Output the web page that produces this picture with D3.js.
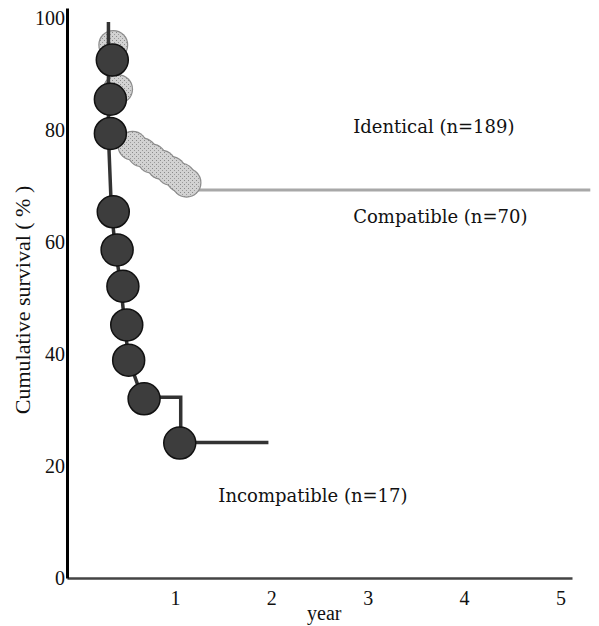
<!DOCTYPE html>
<html>
<head>
<meta charset="utf-8">
<script src="https://cdn.jsdelivr.net/npm/d3@7"></script>
<style>
  body { margin: 0; background: #fff; }
  svg text { font-family: "Liberation Serif", "DejaVu Serif", serif; fill: #111; }
  svg text.lab { font-family: "DejaVu Serif", serif; }
</style>
</head>
<body>
<script>
(function(){

    // Chart values (years, % survival)
    var xTicks = [1, 2, 3, 4, 5];
    var yTicks = [0, 20, 40, 60, 80, 100];

    // Incompatible (n=17): step line and its circle markers
    var incompLine = [[0.31, 99.3], [0.31, 79], [0.34, 66], [0.38, 59], [0.44, 52], [0.48, 45],
                      [0.52, 39], [0.66, 32.3], [1.06, 32.3], [1.06, 24.2], [1.97, 24.2]];
    var incompMarks = [[0.35, 92.5], [0.33, 85.5], [0.33, 79.4], [0.36, 65.4], [0.40, 58.6],
                       [0.46, 52.1], [0.50, 45.2], [0.52, 38.9], [0.68, 32.0], [1.05, 24.1]];

    // Compatible (n=70): grey markers then flat line
    var compMarks = [[0.36, 95.2], [0.41, 87.3], [0.56, 77.2], [0.66, 76.0], [0.76, 74.9],
                     [0.86, 73.8], [0.96, 72.7], [1.06, 71.5], [1.12, 70.6]];
    var compLine = [[1.12, 69.3], [5.31, 69.3]];

    var labels = [
        {text: "Identical (n=189)", t: 2.85, s: 79.5},
        {text: "Compatible (n=70)", t: 2.85, s: 63.4},
        {text: "Incompatible (n=17)", t: 1.45, s: 13.6}
    ];

    var width = 599, height = 626;

    var svg = d3.select("body")
        .append("svg")
        .attr("width", width)
        .attr("height", height);

    // speckled grey fill like the scanned original
    var pat = svg.append("defs").append("pattern")
        .attr("id", "speckle")
        .attr("width", 4).attr("height", 4)
        .attr("patternUnits", "userSpaceOnUse");
    pat.append("rect").attr("width", 4).attr("height", 4).attr("fill", "#d2d2d2");
    pat.append("rect").attr("x", 0).attr("y", 0).attr("width", 1).attr("height", 1).attr("fill", "#8a8a8a");
    pat.append("rect").attr("x", 2).attr("y", 2).attr("width", 1).attr("height", 1).attr("fill", "#9a9a9a");

    var x = d3.scaleLinear().domain([-0.12, 5.12]).range([67, 572]);
    var y = d3.scaleLinear().domain([0, 101.8]).range([578, 8]);

    var line = d3.line()
        .x(function(d){ return x(d[0]); })
        .y(function(d){ return y(d[1]); });

    // axes
    var xAxis = svg.append("g")
        .attr("transform", "translate(0," + y(0) + ")")
        .call(d3.axisBottom(x).tickValues(xTicks).tickSize(0).tickPadding(13).tickFormat(d3.format("d")));
    xAxis.select(".domain").attr("stroke", "#444").attr("stroke-width", 2.5);
    xAxis.selectAll("text").style("font-size", "20px");

    var yAxis = svg.append("g")
        .attr("transform", "translate(" + x(-0.12) + ",0)")
        .call(d3.axisLeft(y).tickValues(yTicks).tickSize(0).tickPadding(2));
    yAxis.select(".domain").attr("stroke", "#000").attr("stroke-width", 3);
    yAxis.selectAll("text").style("font-size", "20px");

    svg.append("text")
        .attr("transform", "translate(30,300) rotate(-90)")
        .attr("text-anchor", "middle")
        .style("font-size", "22px")
        .text("Cumulative survival ( % )");

    svg.append("text")
        .attr("x", x(2.55))
        .attr("y", 620)
        .attr("text-anchor", "middle")
        .style("font-size", "20px")
        .text("year");

    // Compatible
    svg.append("path")
        .datum(compLine)
        .attr("d", line)
        .attr("fill", "none")
        .attr("stroke", "#a8a8a8")
        .attr("stroke-width", 3);

    svg.selectAll(".compEdge")
        .data(compMarks)
        .enter()
        .append("circle")
        .attr("class", "compEdge")
        .attr("cx", function(d){ return x(d[0]); })
        .attr("cy", function(d){ return y(d[1]); })
        .attr("r", 15)
        .attr("fill", "#8c8c8c");

    svg.selectAll(".comp")
        .data(compMarks)
        .enter()
        .append("circle")
        .attr("class", "comp")
        .attr("cx", function(d){ return x(d[0]); })
        .attr("cy", function(d){ return y(d[1]); })
        .attr("r", 13.8)
        .attr("fill", "url(#speckle)");

    // Incompatible
    svg.append("path")
        .datum(incompLine)
        .attr("d", line)
        .attr("fill", "none")
        .attr("stroke", "#333")
        .attr("stroke-width", 3.5);

    svg.selectAll(".incomp")
        .data(incompMarks)
        .enter()
        .append("circle")
        .attr("class", "incomp")
        .attr("cx", function(d){ return x(d[0]); })
        .attr("cy", function(d){ return y(d[1]); })
        .attr("r", 16)
        .attr("fill", "#3d3d3d")
        .attr("stroke", "#111")
        .attr("stroke-width", 1.5);

    svg.selectAll(".lab")
        .data(labels)
        .enter()
        .append("text")
        .attr("class", "lab")
        .attr("x", function(d){ return x(d.t); })
        .attr("y", function(d){ return y(d.s); })
        .style("font-size", "18px")
        .text(function(d){ return d.text; });

})();
</script>
</body>
</html>
